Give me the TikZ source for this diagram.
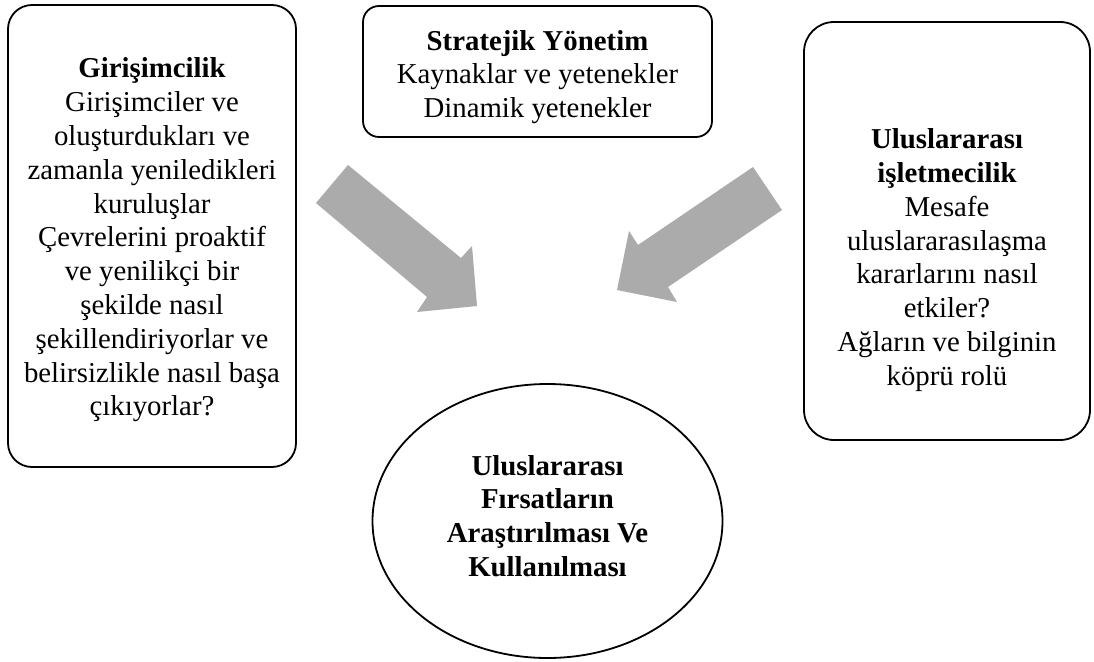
\documentclass[tikz,border=0pt]{standalone}
\usepackage{fontspec}
\setmainfont{Liberation Serif}
\usetikzlibrary{shapes.geometric}
\definecolor{arrowgray}{HTML}{ABABAB}
\tikzset{
  panel/.style={draw=black, line width=1.8pt, rounded corners=#1, inner sep=0pt},
  panel/.default=24pt,
  body/.style={align=center, inner sep=0pt, font=\fontsize{28.8}{33.8}\selectfont},
  bigarrow/.style={fill=arrowgray, draw=none}
}
\begin{document}
\begin{tikzpicture}[x=1pt, y=-1pt]
\useasboundingbox (0,0) rectangle (1094,661);

% three source panels
\node[panel=24pt, minimum width=288pt, minimum height=462pt] (entbox) at (152,236) {};
\node[panel=16pt, minimum width=349pt, minimum height=131pt] (stratbox) at (537.5,71.5) {};
\node[panel=30pt, minimum width=286pt, minimum height=418pt] (intbox) at (947,231) {};

% target ellipse
\node[draw=black, line width=1.8pt, ellipse, minimum width=350pt, minimum height=274pt, inner sep=0pt] (opp) at (547.5,521) {};

% panel texts
\node[body] (enttext) at (152,240) {\textbf{Girişimcilik}\\Girişimciler ve\\oluşturdukları ve\\zamanla yeniledikleri\\kuruluşlar\\Çevrelerini proaktif\\ve yenilikçi bir\\şekilde nasıl\\şekillendiriyorlar ve\\belirsizlikle nasıl başa\\çıkıyorlar?};
\node[body] (strattext) at (537.5,77) {\textbf{Stratejik Yönetim}\\Kaynaklar ve yetenekler\\Dinamik yetenekler};
\node[body] (inttext) at (947,260) {\textbf{Uluslararası}\\\textbf{işletmecilik}\\Mesafe\\uluslararasılaşma\\kararlarını nasıl\\etkiler?\\Ağların ve bilginin\\köprü rolü};
\node[body, font=\fontsize{28.8}{33.8}\selectfont\bfseries] (opptext) at (547.5,516) {Uluslararası\\Fırsatların\\Araştırılması Ve\\Kullanılması};

% block arrows pointing into the ellipse
\fill[bigarrow] (348,165) -- (461,258) -- (472,246) -- (477,306) -- (417,312) -- (427,297) -- (316,203) -- cycle;
\fill[bigarrow] (753,167) -- (782,210) -- (668,287) -- (677,302) -- (617,290) -- (629,231) -- (638,245) -- cycle;
\end{tikzpicture}
\end{document}
